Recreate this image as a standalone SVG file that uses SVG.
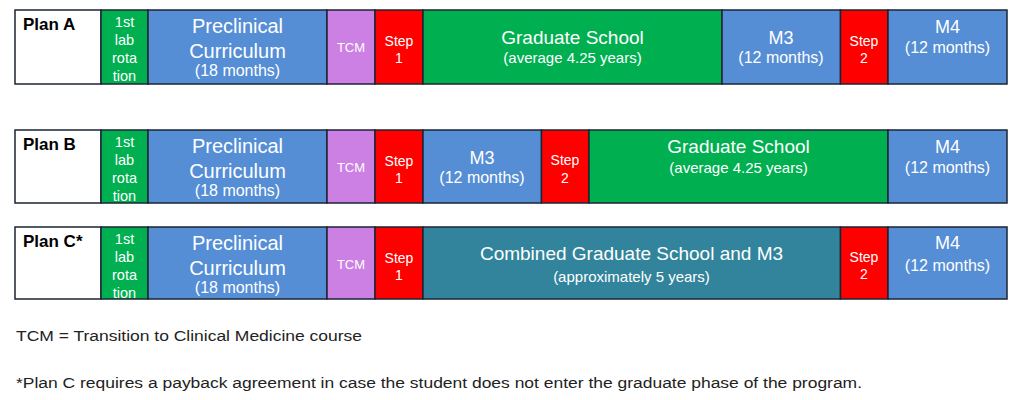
<svg xmlns="http://www.w3.org/2000/svg" width="1024" height="400" viewBox="0 0 1024 400">
<style>
  text { font-family: "Liberation Sans", Arial, sans-serif; fill: #ffffff; text-anchor: middle; }
  .cell { stroke: #1c2433; stroke-width: 1.5; }
  .lbl { fill: #ffffff; }
  .green { fill: #00B050; }
  .blue { fill: #558ED5; }
  .purple { fill: #CC80E3; }
  .red { fill: #FF0000; }
  .teal { fill: #31849B; }
  .plan { fill: #000000; font-weight: bold; font-size: 17px; text-anchor: start; }
  .lab { font-size: 14.5px; }
  .big { font-size: 20px; }
  .mid { font-size: 19px; }
  .m { font-size: 18px; }
  .sub { font-size: 16px; }
  .sub2 { font-size: 15px; }
  .small { font-size: 14px; }
  .tcm { font-size: 13px; }
  .foot { fill: #222222; font-size: 15.5px; text-anchor: start; }
</style>

<g id="connectors"></g>

<!-- Plan A -->
<g id="planA">
  <g id="A-label"><rect class="cell lbl" x="15" y="10" width="86" height="74"/><text class="plan" x="23" y="30">Plan A</text></g>
  <g id="A-lab"><rect class="cell green" x="101" y="10" width="47" height="74"/>
    <text class="lab" x="124.5" y="26.5">1st</text><text class="lab" x="124.5" y="44.5">lab</text><text class="lab" x="124.5" y="62.5">rota</text><text class="lab" x="124.5" y="80.5">tion</text></g>
  <g id="A-pre"><rect class="cell blue" x="148" y="10" width="179" height="74"/>
    <text class="big" x="237.5" y="33">Preclinical</text><text class="big" x="237.5" y="58">Curriculum</text><text class="sub" x="237.5" y="75.5">(18 months)</text></g>
  <g id="A-tcm"><rect class="cell purple" x="327" y="10" width="48" height="74"/><text class="tcm" x="351" y="52">TCM</text></g>
  <g id="A-step1"><rect class="cell red" x="375" y="10" width="48" height="74"/>
    <text class="small" x="399" y="46">Step</text><text class="small" x="399" y="63">1</text></g>
  <g id="A-grad"><rect class="cell green" x="423" y="10" width="299" height="74"/>
    <text class="mid" x="572.5" y="44">Graduate School</text><text class="sub2" x="572.5" y="63">(average 4.25 years)</text></g>
  <g id="A-m3"><rect class="cell blue" x="722" y="10" width="118.5" height="74"/>
    <text class="m" x="781" y="44">M3</text><text class="sub" x="781" y="63">(12 months)</text></g>
  <g id="A-step2"><rect class="cell red" x="840.5" y="10" width="47.5" height="74"/>
    <text class="small" x="864" y="46">Step</text><text class="small" x="864" y="63">2</text></g>
  <g id="A-m4"><rect class="cell blue" x="888" y="10" width="119" height="74"/>
    <text class="m" x="947.5" y="33">M4</text><text class="sub" x="947.5" y="53">(12 months)</text></g>
</g>

<!-- Plan B -->
<g id="planB">
  <g id="B-label"><rect class="cell lbl" x="15" y="130" width="86" height="73"/><text class="plan" x="23" y="150">Plan B</text></g>
  <g id="B-lab"><rect class="cell green" x="101" y="130" width="47" height="73"/>
    <text class="lab" x="124.5" y="146.5">1st</text><text class="lab" x="124.5" y="164.5">lab</text><text class="lab" x="124.5" y="182.5">rota</text><text class="lab" x="124.5" y="200.5">tion</text></g>
  <g id="B-pre"><rect class="cell blue" x="148" y="130" width="179" height="73"/>
    <text class="big" x="237.5" y="153">Preclinical</text><text class="big" x="237.5" y="178">Curriculum</text><text class="sub" x="237.5" y="195.5">(18 months)</text></g>
  <g id="B-tcm"><rect class="cell purple" x="327" y="130" width="48" height="73"/><text class="tcm" x="351" y="172">TCM</text></g>
  <g id="B-step1"><rect class="cell red" x="375" y="130" width="48" height="73"/>
    <text class="small" x="399" y="166">Step</text><text class="small" x="399" y="183">1</text></g>
  <g id="B-m3"><rect class="cell blue" x="423" y="130" width="118.5" height="73"/>
    <text class="m" x="482" y="164">M3</text><text class="sub" x="482" y="183">(12 months)</text></g>
  <g id="B-step2"><rect class="cell red" x="541.5" y="130" width="47.5" height="73"/>
    <text class="small" x="565" y="165">Step</text><text class="small" x="565" y="183">2</text></g>
  <g id="B-grad"><rect class="cell green" x="589" y="130" width="299" height="73"/>
    <text class="mid" x="738.5" y="153">Graduate School</text><text class="sub2" x="738.5" y="173">(average 4.25 years)</text></g>
  <g id="B-m4"><rect class="cell blue" x="888" y="130" width="119" height="73"/>
    <text class="m" x="947.5" y="153">M4</text><text class="sub" x="947.5" y="173">(12 months)</text></g>
</g>

<!-- Plan C -->
<g id="planC">
  <g id="C-label"><rect class="cell lbl" x="15" y="227" width="86" height="72"/><text class="plan" x="23" y="247">Plan C*</text></g>
  <g id="C-lab"><rect class="cell green" x="101" y="227" width="47" height="72"/>
    <text class="lab" x="124.5" y="243.5">1st</text><text class="lab" x="124.5" y="261.5">lab</text><text class="lab" x="124.5" y="279.5">rota</text><text class="lab" x="124.5" y="297.5">tion</text></g>
  <g id="C-pre"><rect class="cell blue" x="148" y="227" width="179" height="72"/>
    <text class="big" x="237.5" y="250">Preclinical</text><text class="big" x="237.5" y="275">Curriculum</text><text class="sub" x="237.5" y="292.5">(18 months)</text></g>
  <g id="C-tcm"><rect class="cell purple" x="327" y="227" width="48" height="72"/><text class="tcm" x="351" y="269">TCM</text></g>
  <g id="C-step1"><rect class="cell red" x="375" y="227" width="48" height="72"/>
    <text class="small" x="399" y="263">Step</text><text class="small" x="399" y="280">1</text></g>
  <g id="C-comb"><rect class="cell teal" x="423" y="227" width="417.5" height="72"/>
    <text class="mid" x="631.5" y="260">Combined Graduate School and M3</text><text class="sub2" x="631.5" y="281.5">(approximately 5 years)</text></g>
  <g id="C-step2"><rect class="cell red" x="840.5" y="227" width="47.5" height="72"/>
    <text class="small" x="864" y="262">Step</text><text class="small" x="864" y="279">2</text></g>
  <g id="C-m4"><rect class="cell blue" x="888" y="227" width="119" height="72"/>
    <text class="m" x="947.5" y="249">M4</text><text class="sub" x="947.5" y="271">(12 months)</text></g>
</g>

<g id="footnotes">
  <text class="foot" x="16" y="340.5" textLength="346" lengthAdjust="spacingAndGlyphs">TCM = Transition to Clinical Medicine course</text>
  <text class="foot" x="16" y="388" textLength="846" lengthAdjust="spacingAndGlyphs">*Plan C requires a payback agreement in case the student does not enter the graduate phase of the program.</text>
</g>
</svg>
